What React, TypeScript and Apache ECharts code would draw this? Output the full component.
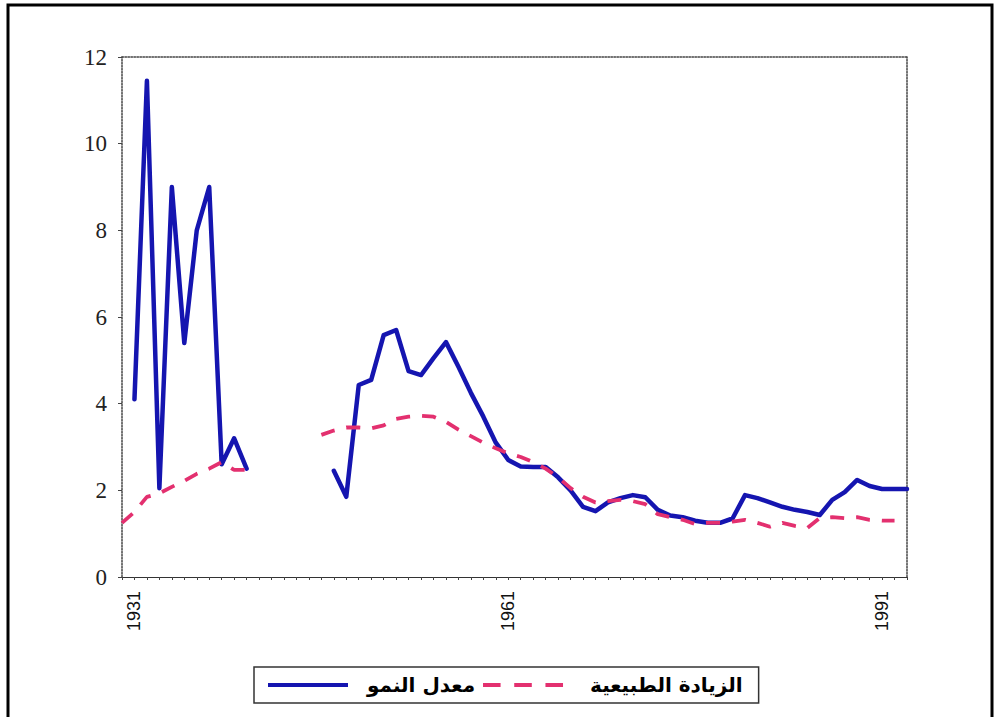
import React, { useEffect, useRef } from "react";
import * as echarts from "echarts";

const years = [
  "1930", "1931", "1932", "1933", "1934", "1935", "1936", "1937", "1938", "1939",
  "1940", "1941", "1942", "1943", "1944", "1945", "1946", "1947", "1948", "1949",
  "1950", "1951", "1952", "1953", "1954", "1955", "1956", "1957", "1958", "1959",
  "1960", "1961", "1962", "1963", "1964", "1965", "1966", "1967", "1968", "1969",
  "1970", "1971", "1972", "1973", "1974", "1975", "1976", "1977", "1978", "1979",
  "1980", "1981", "1982", "1983", "1984", "1985", "1986", "1987", "1988", "1989",
  "1990", "1991", "1992", "1993",
];

const labeledYears = ["1931", "1961", "1991"];

// معدل النمو (growth rate)
const growthRate: (number | null)[] = [
  null, 4.1, 11.45, 2.05, 9.0, 5.4, 8.0, 9.0, 2.6, 3.2,
  2.5, null, null, null, null, null, null, 2.45, 1.85, 4.43,
  4.55, 5.58, 5.7, 4.75, 4.66, 5.05, 5.42, 4.85, 4.25, 3.7,
  3.1, 2.7, 2.55, 2.54, 2.54, 2.3, 2.0, 1.62, 1.52, 1.72,
  1.82, 1.89, 1.84, 1.55, 1.42, 1.38, 1.3, 1.25, 1.25, 1.35,
  1.89, 1.82, 1.72, 1.62, 1.55, 1.5, 1.43, 1.78, 1.96, 2.24,
  2.1, 2.03, 2.03, 2.03,
];

// الزيادة الطبيعية (natural increase)
const naturalIncrease: (number | null)[] = [
  1.25, 1.5, 1.85, 1.93, 2.08, 2.22, 2.38, 2.5, 2.65, 2.47,
  2.47, null, null, null, null, null, 3.28, 3.38, 3.45, 3.45,
  3.43, 3.5, 3.65, 3.7, 3.72, 3.7, 3.58, 3.4, 3.25, 3.1,
  2.97, 2.85, 2.77, 2.65, 2.5, 2.3, 2.05, 1.85, 1.72, 1.75,
  1.78, 1.75, 1.68, 1.45, 1.38, 1.32, 1.22, 1.25, 1.25, 1.28,
  1.32, 1.25, 1.16, 1.25, 1.18, 1.13, 1.36, 1.38, 1.36, 1.38,
  1.32, 1.3, 1.3, null,
];

const seriesNames = ["معدل النمو", "الزيادة الطبيعية"];

const yMin = 0;
const yMax = 12;
const yStep = 2;

export default function App() {
  const ref = useRef<HTMLDivElement>(null);

  useEffect(() => {
    if (!ref.current) return;
    const chart = echarts.init(ref.current, null, { renderer: "svg" });
    const blue = "#1515b0";
    const pink = "#e3306f";
    const dotted = { type: "dotted" as const, color: "#444", width: 1.5 };

    chart.setOption({
      animation: false,
      backgroundColor: "#ffffff",
      grid: { left: 122, top: 57, right: 92, bottom: 140, containLabel: false },
      xAxis: [
        {
          type: "category",
          data: years,
          boundaryGap: false,
          axisLine: { show: true, onZero: false, lineStyle: { color: "#333", width: 1.2 } },
          axisTick: { show: true, interval: 0, length: 3, lineStyle: { color: "#444" } },
          axisLabel: {
            interval: (_i: number, v: string) => labeledYears.includes(v),
            rotate: 90,
            fontFamily: "Liberation Sans",
            fontSize: 18,
            color: "#111",
            margin: 14,
          },
          splitLine: { show: false },
        },
        {
          type: "category",
          data: years,
          position: "top",
          boundaryGap: false,
          axisLine: { show: true, onZero: false, lineStyle: dotted },
          axisTick: { show: false },
          axisLabel: { show: false },
          splitLine: { show: false },
        },
      ],
      yAxis: [
        {
          type: "value",
          min: yMin,
          max: yMax,
          interval: yStep,
          axisLine: { show: true, onZero: false, lineStyle: dotted },
          axisTick: { show: true, length: 4, lineStyle: { color: "#444" } },
          axisLabel: {
            fontFamily: "Liberation Serif",
            fontSize: 23,
            color: "#222",
            margin: 15,
          },
          splitLine: { show: false },
        },
        {
          type: "value",
          position: "right",
          min: yMin,
          max: yMax,
          interval: yStep,
          axisLine: { show: true, onZero: false, lineStyle: dotted },
          axisTick: { show: false },
          axisLabel: { show: false },
          splitLine: { show: false },
        },
      ],
      legend: {
        left: 254,
        top: 667,
        orient: "horizontal",
        itemWidth: 80,
        itemHeight: 14,
        itemGap: 8,
        padding: [8, 16, 8, 14],
        borderColor: "#333",
        borderWidth: 1.5,
        backgroundColor: "#fff",
        itemStyle: { borderWidth: 0 },
        data: [
          {
            name: seriesNames[0],
            icon: "path://M0,0H80V4H0Z",
            textStyle: { padding: [0, 0, 0, 14] },
          },
          {
            name: seriesNames[1],
            icon: "path://M0,0H18V4H0Z M32,0H50V4H32Z M64,0H82V4H64Z",
            textStyle: { padding: [0, 0, 0, 22] },
          },
        ],
        textStyle: {
          fontFamily: "DejaVu Sans",
          fontWeight: "bold",
          fontSize: 20,
          color: "#000",
        },
      },
      graphic: [
        {
          type: "rect",
          silent: true,
          shape: { x: 8, y: 5, width: 984, height: 720 },
          style: { fill: "none", stroke: "#000", lineWidth: 3 },
        },
      ],
      series: [
        {
          name: seriesNames[0],
          type: "line",
          data: growthRate,
          symbol: "none",
          showSymbol: false,
          connectNulls: false,
          lineStyle: { color: blue, width: 4.5, join: "round", cap: "round" },
          itemStyle: { color: blue },
          z: 2,
        },
        {
          name: seriesNames[1],
          type: "line",
          data: naturalIncrease,
          symbol: "none",
          showSymbol: false,
          connectNulls: false,
          lineStyle: { color: pink, width: 3.8, type: [14, 12] },
          itemStyle: { color: pink },
          z: 3,
        },
      ],
    });

    return () => chart.dispose();
  }, []);

  return (
    <div
      ref={ref}
      style={{ position: "fixed", left: 0, top: 0, width: 999, height: 717, background: "#fff" }}
    />
  );
}
